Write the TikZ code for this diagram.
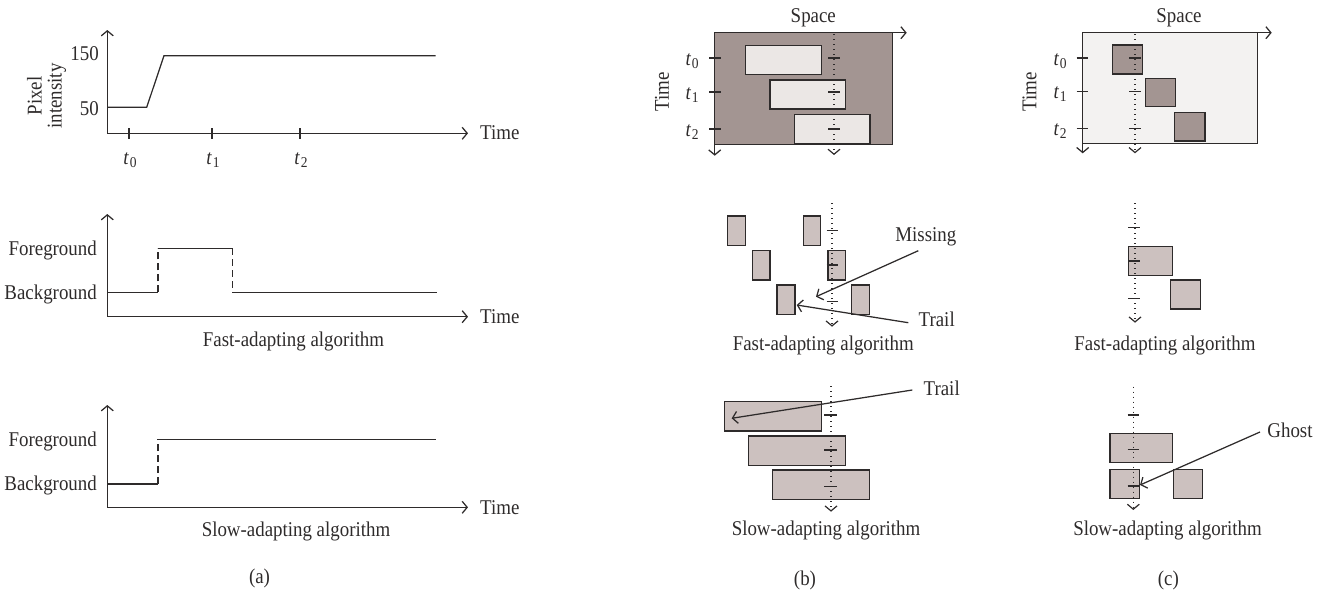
\documentclass[tikz,border=0pt]{standalone}
\usepackage{fontspec}
\setmainfont{Liberation Serif}[FakeStretch=0.9]
\usetikzlibrary{arrows.meta}
\definecolor{lc}{HTML}{2E2B2B}
\definecolor{dk}{HTML}{A39592}
\definecolor{lt}{HTML}{EBE7E5}
\definecolor{bgc}{HTML}{F3F2F1}
\definecolor{md}{HTML}{CCC1BF}
\newcommand{\tlab}[1]{\textit{t}\kern0.03em\raisebox{-0.32ex}{\fontsize{15}{16}\selectfont #1}}
\begin{document}
\begin{tikzpicture}[x=1pt,y=-1pt,
  font=\fontsize{21}{24}\selectfont,
  every node/.style={inner sep=0pt,text=lc},
  >={Straight Barb[length=5pt,width=12pt]},
  ln/.style={draw=lc,line width=1.25pt},
  dsh/.style={ln,dash pattern=on 7pt off 4pt},
  dts/.style={draw=lc,line width=1.2pt,dash pattern=on 1pt off 4pt},
  tk/.style={draw=lc,line width=1.25pt},
  boxd/.style={fill=dk,draw=lc,line width=1.25pt},
  boxl/.style={fill=lt,draw=lc,line width=1.25pt},
  boxm/.style={fill=md,draw=lc,line width=1.25pt}]
\useasboundingbox (0,0) rectangle (1334,592);

% ================= (a) top
\draw[ln,<->] (107.3,30) -- (107.3,133.3) -- (468,133.3);
\foreach \x in {129,212,300} \draw[tk] (\x,128) -- (\x,139);
\draw[ln] (107.3,107.3) -- (146.7,107.3) -- (164,55.7) -- (435.7,55.7);
\node[anchor=base east] (l150) at (99,60.7) {150};
\node[anchor=base east] (l50) at (99,115) {50};
\node[anchor=base west] (time1) at (480,139.3) {Time};
\node[anchor=base] (ta0) at (130,164) {\tlab{0}};
\node[anchor=base] (ta1) at (213,164) {\tlab{1}};
\node[anchor=base] (ta2) at (301,164) {\tlab{2}};
\node[rotate=90,align=center,font=\fontsize{21}{20}\selectfont] (pix) at (46.5,96) {Pixel\\intensity};

% ================= (a) middle
\draw[ln,<->] (107.3,214) -- (107.3,316.7) -- (468,316.7);
\draw[ln] (107.3,292.3) -- (158,292.3);
\draw[dsh] (158,292.3) -- (158,248.3);
\draw[ln] (158,248.3) -- (232.3,248.3);
\draw[dsh] (232.3,248.3) -- (232.3,292.3);
\draw[ln] (232.3,292.3) -- (437.3,292.3);
\node[anchor=base east] (fg1) at (97,255) {Foreground};
\node[anchor=base east] (bg1) at (97,299) {Background};
\node[anchor=base west] (time2) at (480,323.3) {Time};
\node[anchor=base] (fa1) at (293.5,346.7) {Fast-adapting algorithm};

% ================= (a) bottom
\draw[ln,<->] (107.3,405) -- (107.3,507.3) -- (468,507.3);
\draw[ln] (107.3,484) -- (158,484);
\draw[dsh] (158,484) -- (158,439.3);
\draw[ln] (158,439.3) -- (436,439.3);
\node[anchor=base east] (fg2) at (97,446.7) {Foreground};
\node[anchor=base east] (bg2) at (97,490.5) {Background};
\node[anchor=base west] (time3) at (480,514) {Time};
\node[anchor=base] (sa1) at (296,536.7) {Slow-adapting algorithm};
\node (capa) at (259.5,578.3) {(a)};

% ================= (b) top
\fill[dk] (714.7,32.7) rectangle (892.3,144.3);
\draw[ln] (714.7,144.3) -- (892.3,144.3) -- (892.3,32.7);
\draw[ln,<->] (714.7,155.7) -- (714.7,32.7) -- (906.7,32.7);
\draw[boxl] (745.7,45.3) rectangle (821.7,74.7);
\draw[boxl] (770,80) rectangle (845.7,109);
\draw[boxl] (794.3,114.3) rectangle (870,143.7);
\draw[dts,->] (834,34) -- (834,155);
\foreach \y in {58,92,129} {
  \draw[tk] (828.3,\y) -- (840,\y);
  \draw[tk] (709,\y) -- (721,\y);
}
\node[anchor=base] (sp1) at (813.3,22.7) {Space};
\node[anchor=base] (tb0) at (692,65) {\tlab{0}};
\node[anchor=base] (tb1) at (692,99) {\tlab{1}};
\node[anchor=base] (tb2) at (692,136) {\tlab{2}};
\node[rotate=90] (timeb) at (662,91.7) {Time};

% ================= (c) top
\fill[bgc] (1082.7,32.7) rectangle (1257.7,143.3);
\draw[ln] (1082.7,143.3) -- (1257.7,143.3) -- (1257.7,32.7);
\draw[ln,<->] (1082.7,153.3) -- (1082.7,32.7) -- (1271.7,32.7);
\draw[boxd] (1112.3,45) rectangle (1142.7,74);
\draw[boxd] (1145.7,78.3) rectangle (1175.7,106.7);
\draw[boxd] (1174.7,112.3) rectangle (1205,141);
\draw[dts,->] (1135,34) -- (1135,153.3);
\foreach \y in {58,91.3,128.3} {
  \draw[tk] (1129.3,\y) -- (1141,\y);
  \draw[tk] (1076.7,\y) -- (1088.3,\y);
}
\node[anchor=base] (sp2) at (1179,22.7) {Space};
\node[anchor=base] (tc0) at (1060,65) {\tlab{0}};
\node[anchor=base] (tc1) at (1060,98.3) {\tlab{1}};
\node[anchor=base] (tc2) at (1060,135.3) {\tlab{2}};
\node[rotate=90] (timec) at (1029.5,91.7) {Time};

% ================= (b) middle
\draw[boxm] (727.7,216) rectangle (745.3,245.3);
\draw[boxm] (803.3,216) rectangle (820.7,245.3);
\draw[boxm] (752.3,250.7) rectangle (770,280);
\draw[boxm] (828,250.7) rectangle (845.7,280);
\draw[boxm] (777,285) rectangle (795,314.3);
\draw[boxm] (851.7,285) rectangle (869.3,314.3);
\draw[dts,->] (832,203) -- (832,326.7);
\foreach \y in {230.7,265,301.7} \draw[tk] (826.7,\y) -- (838.3,\y);
\node[anchor=base] (miss) at (925.8,241.7) {Missing};
\coordinate (missA) at (918.3,250.7);
\coordinate (missB) at (816,296.7);
\draw[ln,->] (missA) -- (missB);
\node[anchor=base] (trail1) at (936.7,326) {Trail};
\coordinate (trA) at (908.3,322.7);
\coordinate (trB) at (796.7,305);
\draw[ln,->] (trA) -- (trB);
\node[anchor=base] (fa2) at (823.3,350) {Fast-adapting algorithm};

% ================= (c) middle
\draw[boxm] (1128.3,246.3) rectangle (1172.3,275.7);
\draw[boxm] (1170.7,280) rectangle (1200.3,309);
\draw[dts,->] (1135,203) -- (1135,322.7);
\foreach \y in {227.3,261,298.7} \draw[tk] (1128.3,\y) -- (1140,\y);
\node[anchor=base] (fa3) at (1165,350) {Fast-adapting algorithm};

% ================= (b) bottom
\draw[boxm] (724.3,401.7) rectangle (821.7,431);
\draw[boxm] (748.3,436) rectangle (845.7,465.7);
\draw[boxm] (772.3,470) rectangle (869.7,499.3);
\draw[dts,->] (831,386) -- (831,511.7);
\foreach \y in {415,450,486.7} \draw[tk] (824.3,\y) -- (836.7,\y);
\node[anchor=base] (trail2) at (941.7,395) {Trail};
\coordinate (tr2A) at (912.3,390);
\coordinate (tr2B) at (731.7,418.3);
\draw[ln,->] (tr2A) -- (tr2B);
\node[anchor=base] (sa2) at (826,535.7) {Slow-adapting algorithm};
\node (capb) at (805,580) {(b)};

% ================= (c) bottom
\draw[boxm] (1110,433.3) rectangle (1172.3,462.3);
\draw[boxm] (1110,469.3) rectangle (1139.3,498.3);
\draw[boxm] (1173.3,469.3) rectangle (1202.7,498.3);
\draw[dts,->] (1133.3,386.7) -- (1133.3,510);
\foreach \y in {415,449.3,486} \draw[tk] (1127.7,\y) -- (1139,\y);
\node[anchor=base] (ghost) at (1290,437.3) {Ghost};
\coordinate (ghA) at (1260,432);
\coordinate (ghB) at (1140,485);
\draw[ln,->] (ghA) -- (ghB);
\node[anchor=base] (sa3) at (1167.5,535) {Slow-adapting algorithm};
\node (capc) at (1168.3,580) {(c)};
\end{tikzpicture}
\end{document}
